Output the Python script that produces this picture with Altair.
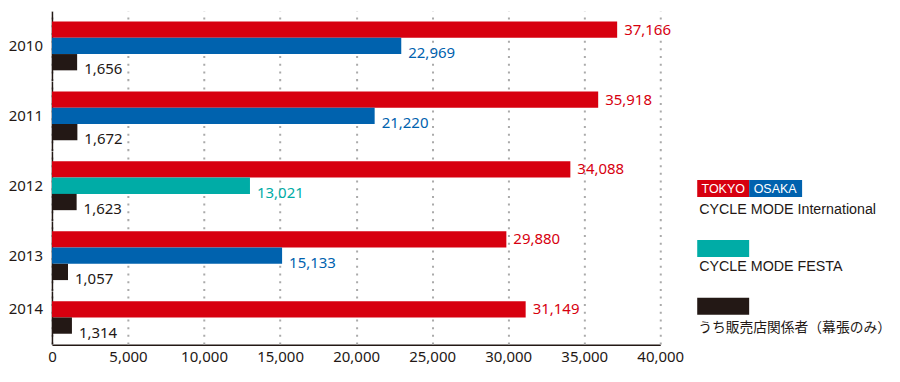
import altair as alt
import pandas as pd

# ---- data ----
years = ["2010", "2011", "2012", "2013", "2014"]
tokyo = [37166, 35918, 34088, 29880, 31149]
second = [22969, 21220, 13021, 15133, None]
second_kind = ["OSAKA", "OSAKA", "FESTA", "OSAKA", None]
staff = [1656, 1672, 1623, 1057, 1314]

kinds = ["TOKYO", "OSAKA", "FESTA", "STAFF"]
kind_colors = ["#d7000f", "#0062ae", "#00aca6", "#231815"]
x_ticks = [0, 5000, 10000, 15000, 20000, 25000, 30000, 35000, 40000]

legend_titles = ["CYCLE MODE International", "CYCLE MODE FESTA", "うち販売店関係者（幕張のみ）"]

rows = []
for i, y in enumerate(years):
    n = 3 if second[i] is not None else 2
    rows.append(dict(year=y, slot="a", kind="TOKYO", value=tokyo[i], n=n))
    if second[i] is not None:
        rows.append(dict(year=y, slot="b", kind=second_kind[i], value=second[i], n=n))
    rows.append(dict(year=y, slot="c", kind="STAFF", value=staff[i], n=n))
df = pd.DataFrame(rows)

FONT = "Noto Sans"
DARK = "#231815"
STEP = 16.3
color_scale = alt.Scale(domain=kinds, range=kind_colors)

base = alt.Chart().encode(
    y=alt.Y(
        "slot:N",
        sort=["a", "b", "c"],
        scale=alt.Scale(paddingInner=0, paddingOuter=0.632),
        axis=alt.Axis(labels=False, ticks=False, title=None, domain=True,
                      domainColor=DARK, domainWidth=1.5, grid=False,
                      minExtent=0, maxExtent=0),
    )
)

xenc = alt.X(
    "value:Q",
    scale=alt.Scale(domain=[0, 40000], nice=False),
    axis=alt.Axis(values=x_ticks, format=",.0f", title=None, ticks=False,
                  labelFlush=False,
                  labelPadding=5, labelFontSize=15, labelFont=FONT, labelColor=DARK,
                  domainColor=DARK, domainWidth=1.5,
                  grid=True, gridColor="#aaaaaa", gridWidth=2, gridDash=[2, 5.7]),
)

bars = base.mark_bar().encode(
    x=xenc,
    color=alt.Color("kind:N", scale=color_scale, legend=None),
)

# year labels at the left of each cell
year_label3 = base.transform_filter("datum.slot == 'b'").mark_text(
    align="right", baseline="middle", font=FONT, fontSize=15, color=DARK
).encode(x=alt.value(-9), text="year:N")

year_label2 = base.transform_filter("datum.n == 2 && datum.slot == 'a'").mark_text(
    align="right", baseline="middle", font=FONT, fontSize=15, color=DARK
).encode(x=alt.value(-9), text="year:N")

text_main = base.transform_filter("datum.slot == 'a'").mark_text(
    align="left", baseline="middle", dx=7, font=FONT, fontSize=15
).encode(
    x="value:Q",
    text=alt.Text("value:Q", format=",.0f"),
    color=alt.Color("kind:N", scale=color_scale, legend=None),
)

text_other = base.transform_filter("datum.slot != 'a'").mark_text(
    align="left", baseline="middle", dx=7, dy=7, font=FONT, fontSize=15
).encode(
    x="value:Q",
    text=alt.Text("value:Q", format=",.0f"),
    color=alt.Color("kind:N", scale=color_scale, legend=None),
)

main = alt.layer(bars, text_main, text_other, year_label3, year_label2, data=df).properties(
    width=609, height=alt.Step(STEP)
).facet(
    row=alt.Row("year:N", title=None, header=alt.Header(labels=False)),
    spacing=0,
).resolve_scale(y="independent")

# ---- custom legend panel ----
one = alt.Data(values=[{"k": 1}])
LF = "Liberation Sans"


def box(x0, x1, y0, y1, color):
    return alt.Chart(one).mark_rect(color=color).encode(
        x=alt.value(x0), x2=alt.value(x1), y=alt.value(y0), y2=alt.value(y1))


def label(x, y, txt, size=14.3, color=DARK, align="left"):
    return alt.Chart(one).mark_text(align=align, baseline="middle", font=LF,
                                    fontSize=size, color=color).encode(
        x=alt.value(x), y=alt.value(y), text=alt.value(txt))


legend = alt.layer(
    box(0, 52, 169, 186, kind_colors[0]),
    box(52, 105, 169, 186, kind_colors[1]),
    label(26, 178, "TOKYO", size=12.5, color="white", align="center"),
    label(78, 178, "OSAKA", size=12.5, color="white", align="center"),
    label(2, 199, legend_titles[0]),
    box(0, 52, 229, 246, kind_colors[2]),
    label(2, 256, legend_titles[1]),
    box(0, 52, 287, 304, kind_colors[3]),
    alt.Chart(one).mark_text(align="left", baseline="middle", font="Noto Sans CJK JP",
                             fontSize=13.8, color=DARK).encode(
        x=alt.value(1), y=alt.value(317), text=alt.value(legend_titles[2])),
).properties(width=190, height=330)

chart = alt.hconcat(main, legend, spacing=13).configure_view(stroke=None).properties(
    padding={"left": 0, "top": 3, "right": 0, "bottom": 0}
)

chart.save("out.html", embed_options={"renderer": "svg", "actions": False})
